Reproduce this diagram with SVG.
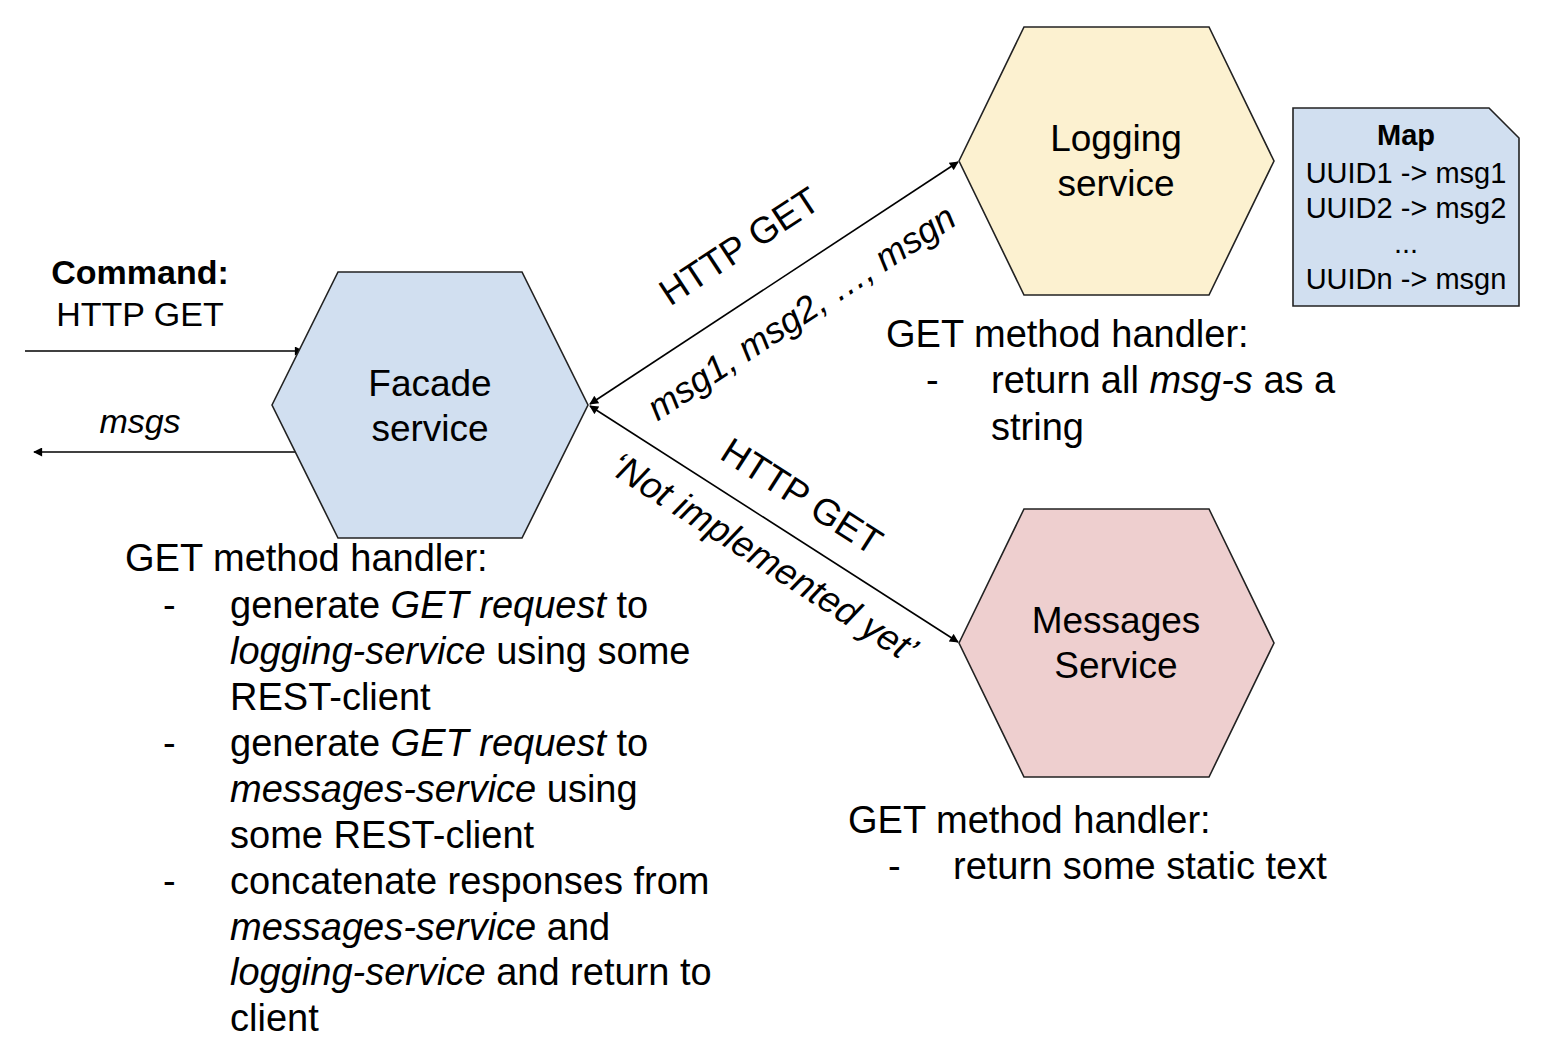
<svg xmlns="http://www.w3.org/2000/svg" width="1552" height="1058" viewBox="0 0 1552 1058">
<defs>
<marker id="ah" viewBox="0 0 10 10" refX="9" refY="5" markerWidth="11" markerHeight="9" orient="auto-start-reverse" markerUnits="userSpaceOnUse">
<path d="M0,0 L10,5 L0,10 Z" fill="#000"/>
</marker>
<style>
text{font-family:"Liberation Sans",Arial,sans-serif;fill:#000;}
.hex{stroke:#222;stroke-width:1.6;}
.lbl{font-size:37px;text-anchor:middle;}
.t{font-size:38px;}
.s{font-size:34px;}
.m{font-size:29px;text-anchor:middle;}
.i{font-style:italic;}
.b{font-weight:bold;}
.c{stroke:#000;stroke-width:1.6;fill:none;}
</style>
</defs>
<rect width="1552" height="1058" fill="#fff"/>

<g id="connectors">
<line class="c" x1="25" y1="351" x2="303" y2="351" marker-end="url(#ah)"/>
<line class="c" x1="296" y1="452" x2="34" y2="452" marker-end="url(#ah)"/>
<line class="c" x1="590" y1="404" x2="958" y2="162" marker-start="url(#ah)" marker-end="url(#ah)"/>
<line class="c" x1="590" y1="406" x2="958" y2="642" marker-start="url(#ah)" marker-end="url(#ah)"/>
<text class="lbl" transform="translate(739,246) rotate(-33.3)" dy="0.35em">HTTP GET</text>
<text class="lbl i" style="font-size:36px" transform="translate(801,312) rotate(-33.3)" dy="0.35em">msg1, msg2, …, msgn</text>
<text class="lbl" transform="translate(802,496) rotate(32.7)" dy="0.35em">HTTP GET</text>
<text class="lbl i" transform="translate(764,557) rotate(32.7)" dy="0.35em">‘Not implemented yet’</text>
<text class="s b" x="140" y="284" text-anchor="middle">Command:</text>
<text class="s" x="140" y="326" text-anchor="middle">HTTP GET</text>
<text class="s i" x="140" y="433" text-anchor="middle">msgs</text>
</g>

<g id="facade">
<polygon class="hex" fill="#d1dff0" points="272,405 338,272 522,272 588,405 522,538 338,538"/>
<text class="lbl" x="430" y="396">Facade</text>
<text class="lbl" x="430" y="441">service</text>
</g>

<g id="logging">
<polygon class="hex" fill="#fcf1d0" points="959,161 1024,27 1209,27 1274,161 1209,295 1024,295"/>
<text class="lbl" x="1116" y="151">Logging</text>
<text class="lbl" x="1116" y="196">service</text>
</g>

<g id="messages">
<polygon class="hex" fill="#eecfcf" points="959,643 1024,509 1209,509 1274,643 1209,777 1024,777"/>
<text class="lbl" x="1116" y="633">Messages</text>
<text class="lbl" x="1116" y="678">Service</text>
</g>

<g id="map">
<path d="M1293,108 H1489 L1519,138 V306 H1293 Z" fill="#d1dff0" stroke="#222" stroke-width="1.6"/>
<text class="m b" x="1406" y="145">Map</text>
<text class="m" x="1406" y="183">UUID1 -&gt; msg1</text>
<text class="m" x="1406" y="218">UUID2 -&gt; msg2</text>
<text class="m" x="1406" y="253">...</text>
<text class="m" x="1406" y="289">UUIDn -&gt; msgn</text>
</g>

<g id="logging-desc">
<text class="t" x="886" y="347">GET method handler:</text>
<text class="t" x="926" y="393">-</text>
<text class="t" x="991" y="393">return all <tspan class="i">msg-s</tspan> as a</text>
<text class="t" x="991" y="440">string</text>
</g>

<g id="facade-desc">
<text class="t" x="125" y="571">GET method handler:</text>
<text class="t" x="163" y="618">-</text>
<text class="t" x="230" y="618">generate <tspan class="i">GET request</tspan> to</text>
<text class="t" x="230" y="664"><tspan class="i">logging-service</tspan> using some</text>
<text class="t" x="230" y="710">REST-client</text>
<text class="t" x="163" y="756">-</text>
<text class="t" x="230" y="756">generate <tspan class="i">GET request</tspan> to</text>
<text class="t" x="230" y="802"><tspan class="i">messages-service</tspan> using</text>
<text class="t" x="230" y="848">some REST-client</text>
<text class="t" x="163" y="894">-</text>
<text class="t" x="230" y="894">concatenate responses from</text>
<text class="t" x="230" y="940"><tspan class="i">messages-service</tspan> and</text>
<text class="t" x="230" y="985"><tspan class="i">logging-service</tspan> and return to</text>
<text class="t" x="230" y="1031">client</text>
</g>

<g id="messages-desc">
<text class="t" x="848" y="833">GET method handler:</text>
<text class="t" x="888" y="879">-</text>
<text class="t" x="953" y="879">return some static text</text>
</g>
</svg>
